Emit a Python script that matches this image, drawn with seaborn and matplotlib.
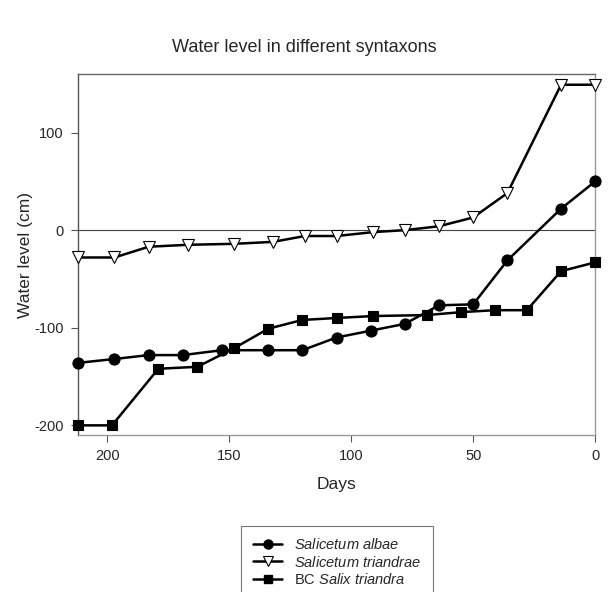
import matplotlib
matplotlib.use("Agg")
import matplotlib.pyplot as plt
import seaborn as sns
import pandas as pd
from matplotlib.lines import Line2D

# Data
days_albae = [212, 197, 183, 169, 153, 134, 120, 106, 92, 78, 64, 50, 36, 14, 0]
level_albae = [-136, -132, -128, -128, -123, -123, -123, -110, -103, -96, -77, -76, -31, 22, 50]

days_triandrae = [212, 197, 183, 167, 148, 132, 119, 106, 91, 78, 64, 50, 36, 14, 0]
level_triandrae = [-28, -28, -17, -15, -14, -12, -6, -6, -2, 0, 4, 13, 38, 149, 149]

days_bc = [212, 198, 179, 163, 148, 134, 120, 106, 91, 69, 55, 41, 28, 14, 0]
level_bc = [-200, -200, -142, -140, -121, -101, -92, -90, -88, -87, -84, -82, -82, -42, -33]

series_names = ["Salicetum albae", "Salicetum triandrae", "BC Salix triandra"]
legend_labels = [r"$\it{Salicetum\ albae}$", r"$\it{Salicetum\ triandrae}$", r"BC $\it{Salix\ triandra}$"]

title = "Water level in different syntaxons"
xlabel = "Days"
ylabel = "Water level (cm)"
xticks = [200, 150, 100, 50, 0]
yticks = [-200, -100, 0, 100]

sns.set_theme(style="white")
plt.rcParams['font.family'] = ['Liberation Sans', 'DejaVu Sans']
plt.rcParams['axes.unicode_minus'] = False
plt.rcParams['mathtext.fontset'] = 'custom'
plt.rcParams['mathtext.it'] = 'Liberation Sans:italic'
plt.rcParams['mathtext.rm'] = 'Liberation Sans'

df = pd.concat([
    pd.DataFrame({"Days": days_albae, "Level": level_albae, "Series": series_names[0]}),
    pd.DataFrame({"Days": days_triandrae, "Level": level_triandrae, "Series": series_names[1]}),
    pd.DataFrame({"Days": days_bc, "Level": level_bc, "Series": series_names[2]}),
], ignore_index=True)

fig = plt.figure(figsize=(6.08, 5.92), dpi=100)
ax = fig.add_axes([0.128, 0.265, 0.851, 0.61])

ax.axhline(0, color="#444444", lw=0.8, zorder=1)

markers = {series_names[0]: "o", series_names[1]: "v", series_names[2]: "s"}
mfc = {series_names[0]: "black", series_names[1]: "white", series_names[2]: "black"}
for name in series_names:
    sub = df[df["Series"] == name]
    sns.lineplot(data=sub, x="Days", y="Level", ax=ax, color="black", lw=1.8,
                 marker=markers[name], markersize=8 if name != series_names[2] else 7,
                 markerfacecolor=mfc[name], markeredgecolor="black",
                 markeredgewidth=0.8, clip_on=False, zorder=3, legend=False,
                 estimator=None, sort=False)

ax.set_xlim(212, 0)
ax.set_ylim(-210, 160)
ax.set_xticks(xticks)
ax.set_yticks(yticks)
ax.tick_params(axis="both", which="both", direction="out", length=5, width=0.8,
               color="#555555", labelsize=10.5, bottom=True, left=True, pad=5)
for side in ["left", "bottom", "top", "right"]:
    ax.spines[side].set_visible(True)
    ax.spines[side].set_linewidth(1.0)
ax.spines["left"].set_color("#555555")
ax.spines["bottom"].set_color("#999999")
ax.spines["top"].set_color("#666666")
ax.spines["right"].set_color("#999999")

ax.set_xlabel(xlabel, fontsize=12.5, labelpad=10)
ax.set_ylabel(ylabel, fontsize=12.5)
ax.yaxis.set_label_coords(-0.102, 0.5)
ax.yaxis.label.set_verticalalignment("center")
fig.text(0.5, 0.92, title, ha="center", va="center", fontsize=13)

handles = [
    Line2D([], [], color="black", lw=1.8, marker="o", markersize=6.5, markerfacecolor="black"),
    Line2D([], [], color="black", lw=1.8, marker="v", markersize=6.5, markerfacecolor="white", markeredgecolor="black", markeredgewidth=0.8),
    Line2D([], [], color="black", lw=1.8, marker="s", markersize=6, markerfacecolor="black"),
]
leg = fig.legend(handles, legend_labels, loc="upper left", bbox_to_anchor=(0.397, 0.112),
                 frameon=True, fancybox=False, edgecolor="#555555", fontsize=10.5,
                 handlelength=2.0, handletextpad=0.8, labelspacing=0.15,
                 borderpad=0.8, borderaxespad=0)
leg.get_frame().set_linewidth(0.8)

fig.savefig("out.png", dpi=100)
